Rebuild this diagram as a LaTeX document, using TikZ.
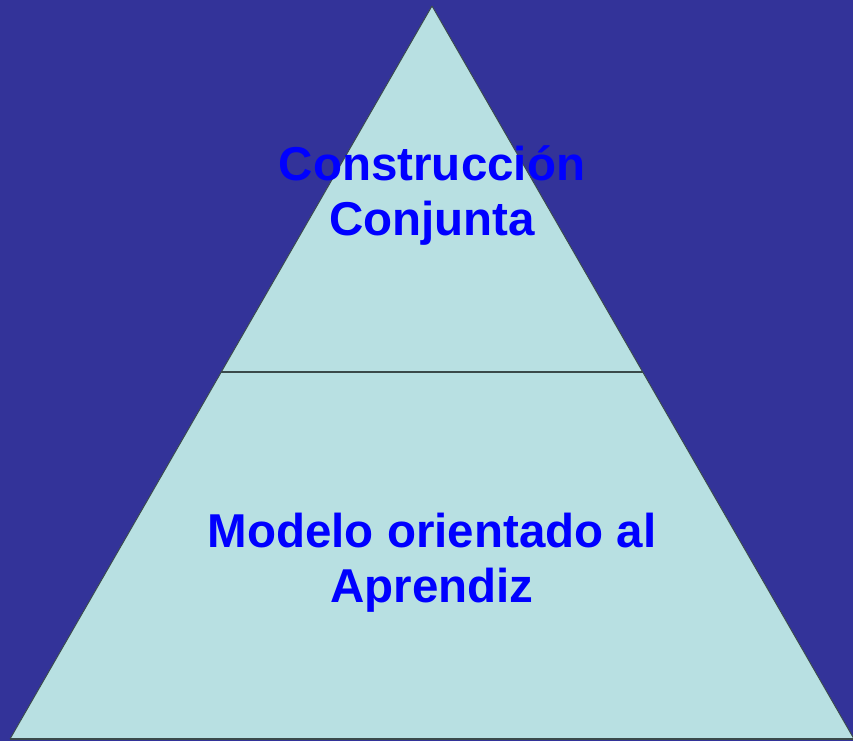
\documentclass[tikz,border=0pt]{standalone}
\usepackage{fontspec}
\setmainfont{Liberation Sans}
\usetikzlibrary{calc}
\definecolor{bgblue}{HTML}{333399}
\definecolor{pyrfill}{HTML}{B8E0E2}
\definecolor{txtblue}{HTML}{0000FF}
\definecolor{edgegray}{HTML}{3A4A4A}
\begin{document}
\begin{tikzpicture}[x=1pt,y=-1pt,
  label text/.style={font=\fontsize{47.5}{55}\selectfont\bfseries, text=txtblue, anchor=base, inner sep=0pt}]
\fill[bgblue] (0,0) rectangle (853,741);
\useasboundingbox (0,0) rectangle (853,741);
\coordinate (apex) at (432,6);
\coordinate (bl) at (10,739);
\coordinate (br) at (854,739);
\coordinate (ml) at ($(apex)!0.4993!(bl)$);
\coordinate (mr) at ($(apex)!0.4993!(br)$);
\fill[pyrfill] (apex) -- (bl) -- (br) -- cycle;
\draw[edgegray, line width=0.9pt] (apex) -- (bl);
\draw[edgegray, line width=0.9pt] (apex) -- (br);
\draw[edgegray, line width=1.8pt] (bl) -- (br);
\draw[edgegray, line width=1.8pt] (ml) -- (mr);
\node[label text] (t1) at (432,180) {Construcción};
\node[label text] (t2) at (432,235) {Conjunta};
\node[label text] (t3) at (432,547) {Modelo orientado al};
\node[label text] (t4) at (432,602) {Aprendiz};
\end{tikzpicture}
\end{document}
